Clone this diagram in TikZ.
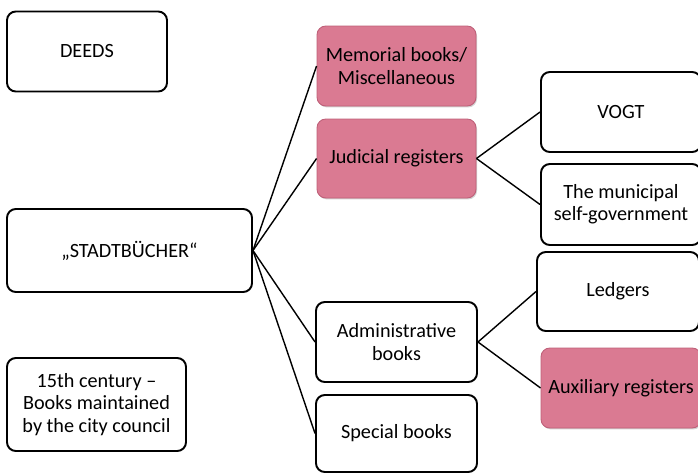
\documentclass[tikz,border=0pt]{standalone}
\usepackage{fontspec}
\setmainfont{Carlito}
\usepackage{tikz}
\usetikzlibrary{shadows}

\definecolor{rosebox}{RGB}{218,122,146}
\definecolor{roseline}{RGB}{190,95,120}

\begin{document}
\begin{tikzpicture}[
    box/.style={draw, line width=1.1pt, rounded corners=5pt, minimum width=3.2cm, minimum height=1.6cm, align=center, inner sep=2pt, font=\fontsize{11.5}{12.6}\selectfont, fill=white},
    pinkbox/.style={box, draw=roseline, line width=0.5pt, fill=rosebox, drop shadow={shadow xshift=0.6pt, shadow yshift=-0.8pt, fill=black!35}},
    link/.style={line width=0.8pt}
]
\useasboundingbox (0,0) rectangle (13.96,-9.46);
\begin{scope}
\clip (0,0) rectangle (13.96,-9.46);
\node[box] (deeds) at (1.74,-1.03) {DEEDS};
\node[box, minimum width=4.9cm, minimum height=1.66cm] (stadt) at (2.59,-5.01) {„STADTBÜCHER“};
\node[box, minimum width=3.58cm, minimum height=1.86cm] (century) at (1.93,-8.09) {15th century --\\Books maintained\\by the city council};

\node[pinkbox, minimum width=3.18cm] (memorial) at (7.93,-1.32) {Memorial books/\\Miscellaneous};
\node[pinkbox, minimum width=3.18cm, minimum height=1.58cm] (judicial) at (7.93,-3.17) {Judicial registers};
\node[box, minimum width=3.22cm] (admin) at (7.93,-6.84) {Administrative\\books};
\node[box, minimum width=3.22cm, minimum height=1.54cm] (special) at (7.93,-8.67) {Special books};

\node[box] (vogt) at (12.42,-2.24) {VOGT};
\node[box, minimum height=1.62cm] (municipal) at (12.42,-4.09) {The municipal\\self-government};
\node[box, minimum width=3.24cm, minimum height=1.58cm] (ledgers) at (12.36,-5.83) {Ledgers};
\node[pinkbox] (auxiliary) at (12.42,-7.76) {Auxiliary registers};

% tree links
\draw[link] (stadt.east) -- (memorial.west);
\draw[link] (stadt.east) -- (judicial.west);
\draw[link] (stadt.east) -- (admin.west);
\draw[link] (stadt.east) -- (special.west);
\draw[link] (judicial.east) -- (vogt.west);
\draw[link] (judicial.east) -- (municipal.west);
\draw[link] (admin.east) -- (ledgers.west);
\draw[link] (admin.east) -- (auxiliary.west);
\end{scope}
\end{tikzpicture}
\end{document}
